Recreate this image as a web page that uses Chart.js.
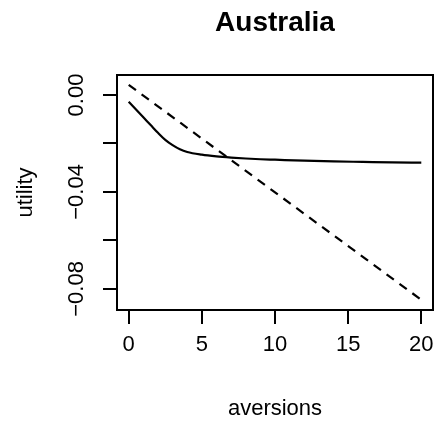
<!DOCTYPE html>
<html>
<head>
<meta charset="utf-8">
<script src="https://cdn.jsdelivr.net/npm/chart.js@4"></script>
<style>
  html, body { margin: 0; padding: 0; background: #fff; }
  canvas { display: block; }
</style>
</head>
<body>
<canvas id="c" width="437" height="422"></canvas>
<script>
// Utility against number of aversions, Australia
const titleText = "Australia";
const xLabel = "aversions";
const yLabel = "utility";

const aversions = [0, 0.5, 1, 1.5, 2, 2.5, 3, 3.5, 4, 5, 6, 7, 8, 9, 10, 12, 14, 16, 18, 20];
const utilitySolid = [-0.0028, -0.0060, -0.0092, -0.0124, -0.0156, -0.0185, -0.0207, -0.0224,
                      -0.0235, -0.0246, -0.0253, -0.0258, -0.0262, -0.0265, -0.0267, -0.0271,
                      -0.0274, -0.0276, -0.0278, -0.0279];
const dashedX = [0, 20];
const utilityDashed = [0.0042, -0.0845];

const xTicks = [0, 5, 10, 15, 20];
const yTicks = [0.00, -0.02, -0.04, -0.06, -0.08];
const yTickLabels = ["0.00", "", "\u22120.04", "", "\u22120.08"];

const FONT = "'Liberation Sans', Arial, Helvetica, sans-serif";

const toPts = (xs, ys) => xs.map((x, i) => ({ x: x, y: ys[i] }));

const decorations = {
  id: 'decorations',
  afterDraw(chart) {
    const { ctx, chartArea: a, scales } = chart;
    ctx.save();
    // plot box
    ctx.strokeStyle = '#000';
    ctx.lineWidth = 2;
    ctx.strokeRect(a.left, a.top, a.right - a.left, a.bottom - a.top);

    const cx = (a.left + a.right) / 2;
    // title
    ctx.fillStyle = '#000';
    ctx.textAlign = 'center';
    ctx.textBaseline = 'alphabetic';
    ctx.font = "bold 28px " + FONT;
    ctx.fillText(titleText, cx, 31);

    // x axis title
    ctx.font = "22px " + FONT;
    ctx.fillText(xLabel, cx, 415);

    // y tick labels (rotated, as in base graphics)
    const ys = scales.y;
    ctx.font = "22px " + FONT;
    ctx.textBaseline = 'middle';
    yTicks.forEach((v, i) => {
      const lbl = yTickLabels[i];
      if (!lbl) return;
      const py = ys.getPixelForValue(v);
      ctx.save();
      ctx.translate(77, py);
      ctx.rotate(-Math.PI / 2);
      ctx.fillText(lbl, 0, 0);
      ctx.restore();
    });

    // y axis title
    ctx.save();
    ctx.translate(26, (a.top + a.bottom) / 2);
    ctx.rotate(-Math.PI / 2);
    ctx.fillText(yLabel, 0, 0);
    ctx.restore();
    ctx.restore();
  }
};

new Chart(document.getElementById('c'), {
  type: 'scatter',
  data: {
    datasets: [
      {
        data: toPts(aversions, utilitySolid),
        showLine: true,
        borderColor: '#000',
        borderWidth: 2.2,
        pointRadius: 0,
        cubicInterpolationMode: 'monotone'
      },
      {
        data: toPts(dashedX, utilityDashed),
        showLine: true,
        borderColor: '#000',
        borderWidth: 2.2,
        borderDash: [9, 7],
        pointRadius: 0
      }
    ]
  },
  options: {
    responsive: false,
    animation: false,
    layout: { padding: { top: 75, right: 4, left: 0, bottom: 0 } },
    plugins: {
      legend: { display: false },
      tooltip: { enabled: false },
      title: { display: false }
    },
    scales: {
      x: {
        type: 'linear',
        min: -0.8,
        max: 20.8,
        afterBuildTicks: (s) => { s.ticks = xTicks.map(v => ({ value: v })); },
        afterFit: (s) => {
          s.height = 112;
          s.paddingLeft = 0;
          s.paddingRight = 0;
        },
        border: { display: false },
        grid: {
          drawOnChartArea: false,
          drawTicks: true,
          tickLength: 14,
          color: '#000',
          lineWidth: 2
        },
        ticks: {
          color: '#000',
          padding: 8,
          font: { family: FONT, size: 22 },
          maxRotation: 0
        }
      },
      y: {
        type: 'linear',
        min: -0.0887,
        max: 0.00825,
        afterBuildTicks: (s) => { s.ticks = yTicks.map(v => ({ value: v })); },
        afterFit: (s) => {
          s.width = 117;
          s.paddingTop = 0;
          s.paddingBottom = 0;
        },
        border: { display: false },
        grid: {
          drawOnChartArea: false,
          drawTicks: true,
          tickLength: 14,
          color: '#000',
          lineWidth: 2
        },
        ticks: { display: false }
      }
    }
  },
  plugins: [decorations]
});
</script>
</body>
</html>
